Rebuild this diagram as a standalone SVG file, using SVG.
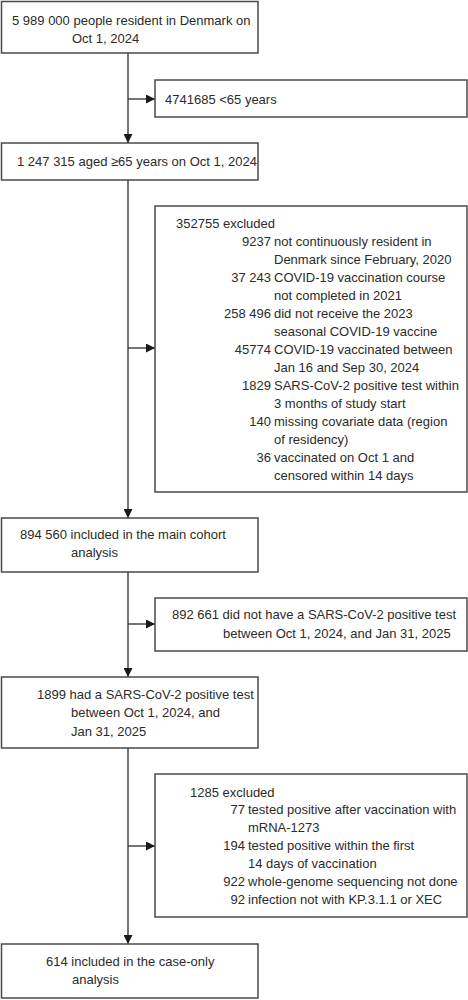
<svg xmlns="http://www.w3.org/2000/svg" width="468" height="1000" viewBox="0 0 468 1000">
<style>
.box{fill:#fff;stroke:#4a4a4a;stroke-width:1.5}
.t{font-family:"Liberation Sans",Arial,sans-serif;font-size:13px;fill:#2b2b2b}
.n{text-anchor:end}
.ln{stroke:#2b2b2b;stroke-width:1.3;fill:none}
</style>
<defs>
<marker id="ah" viewBox="0 0 10 10" refX="10" refY="5" markerWidth="9" markerHeight="9" markerUnits="userSpaceOnUse" orient="auto">
<path d="M0,0 L10,5 L0,10 Z" fill="#1a1a1a"/>
</marker>
</defs>
<rect width="468" height="1000" fill="#fff"/>
<g id="connectors">
<line class="ln" x1="128" y1="53" x2="128" y2="143" marker-end="url(#ah)"/>
<line class="ln" x1="128" y1="99" x2="155" y2="99" marker-end="url(#ah)"/>
<line class="ln" x1="128" y1="180" x2="128" y2="518" marker-end="url(#ah)"/>
<line class="ln" x1="128" y1="348" x2="155" y2="348" marker-end="url(#ah)"/>
<line class="ln" x1="128" y1="572" x2="128" y2="677" marker-end="url(#ah)"/>
<line class="ln" x1="128" y1="624" x2="155" y2="624" marker-end="url(#ah)"/>
<line class="ln" x1="128" y1="748" x2="128" y2="944" marker-end="url(#ah)"/>
<line class="ln" x1="128" y1="846" x2="155" y2="846" marker-end="url(#ah)"/>
</g>
<g id="n1">
<rect class="box" x="1.5" y="1.5" width="256.5" height="51.5"/>
<text class="t" x="12" y="25">5 989 000 people resident in Denmark on</text>
<text class="t" x="72" y="43">Oct 1, 2024</text>
</g>
<g id="n2">
<rect class="box" x="155" y="80" width="312" height="37"/>
<text class="t" x="165" y="104">4741685 &lt;65 years</text>
</g>
<g id="n3">
<rect class="box" x="1.5" y="143" width="256.5" height="37"/>
<text class="t" x="17" y="166">1 247 315 aged ≥65 years on Oct 1, 2024</text>
</g>
<g id="n4">
<rect class="box" x="155" y="206" width="312" height="286"/>
<text class="t" x="176" y="228">352755 excluded</text>
<text class="t n" x="271" y="246">9237</text>
<text class="t" x="274" y="246">not continuously resident in</text>
<text class="t" x="274" y="264">Denmark since February, 2020</text>
<text class="t n" x="271" y="282">37 243</text>
<text class="t" x="274" y="282">COVID-19 vaccination course</text>
<text class="t" x="274" y="300">not completed in 2021</text>
<text class="t n" x="271" y="318">258 496</text>
<text class="t" x="274" y="318">did not receive the 2023</text>
<text class="t" x="274" y="336">seasonal COVID-19 vaccine</text>
<text class="t n" x="271" y="354">45774</text>
<text class="t" x="274" y="354">COVID-19 vaccinated between</text>
<text class="t" x="274" y="372">Jan 16 and Sep 30, 2024</text>
<text class="t n" x="271" y="390">1829</text>
<text class="t" x="274" y="390">SARS-CoV-2 positive test within</text>
<text class="t" x="274" y="408">3 months of study start</text>
<text class="t n" x="271" y="426">140</text>
<text class="t" x="274" y="426">missing covariate data (region</text>
<text class="t" x="274" y="444">of residency)</text>
<text class="t n" x="271" y="462">36</text>
<text class="t" x="274" y="462">vaccinated on Oct 1 and</text>
<text class="t" x="274" y="480">censored within 14 days</text>
</g>
<g id="n5">
<rect class="box" x="1.5" y="518" width="256.5" height="54"/>
<text class="t" x="20" y="539">894 560 included in the main cohort</text>
<text class="t" x="71" y="557">analysis</text>
</g>
<g id="n6">
<rect class="box" x="155" y="598" width="312" height="53"/>
<text class="t" x="172" y="619">892 661 did not have a SARS-CoV-2 positive test</text>
<text class="t" x="223" y="638">between Oct 1, 2024, and Jan 31, 2025</text>
</g>
<g id="n7">
<rect class="box" x="1.5" y="677" width="256.5" height="71"/>
<text class="t" x="37" y="699">1899 had a SARS-CoV-2 positive test</text>
<text class="t" x="71" y="717">between Oct 1, 2024, and</text>
<text class="t" x="71" y="736">Jan 31, 2025</text>
</g>
<g id="n8">
<rect class="box" x="155" y="774" width="312" height="143"/>
<text class="t" x="190" y="797">1285 excluded</text>
<text class="t n" x="245" y="814">77</text>
<text class="t" x="248" y="814">tested positive after vaccination with</text>
<text class="t" x="248" y="832">mRNA-1273</text>
<text class="t n" x="245" y="850">194</text>
<text class="t" x="248" y="850">tested positive within the first</text>
<text class="t" x="248" y="868">14 days of vaccination</text>
<text class="t n" x="245" y="886">922</text>
<text class="t" x="248" y="886">whole-genome sequencing not done</text>
<text class="t n" x="245" y="904">92</text>
<text class="t" x="248" y="904">infection not with KP.3.1.1 or XEC</text>
</g>
<g id="n9">
<rect class="box" x="1.5" y="944" width="256.5" height="54"/>
<text class="t" x="46" y="966">614 included in the case-only</text>
<text class="t" x="72" y="984">analysis</text>
</g>
</svg>
